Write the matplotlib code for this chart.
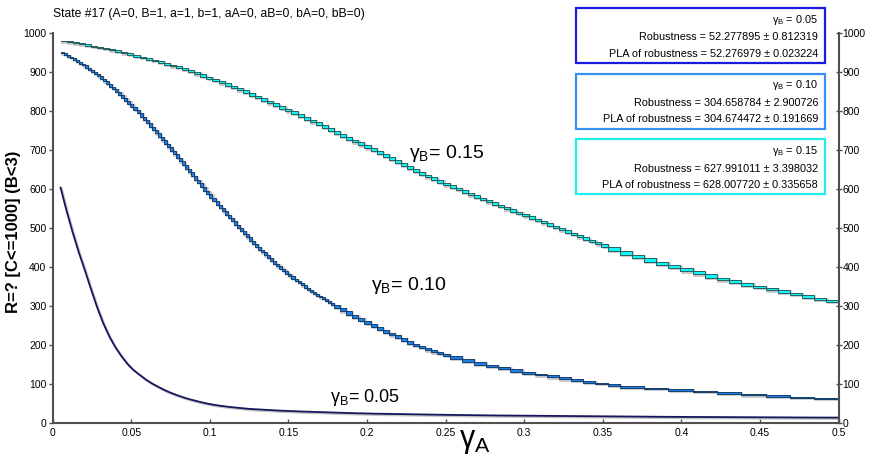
import matplotlib
matplotlib.use("Agg")
import matplotlib.pyplot as plt
import matplotlib.transforms as mtransforms
from matplotlib.patches import Rectangle
import numpy as np

plt.rcParams['font.family'] = ['Liberation Sans', 'DejaVu Sans']
plt.rcParams['mathtext.fontset'] = 'custom'
plt.rcParams['mathtext.rm'] = 'Liberation Sans'

# step grids (gamma_A), start 0.005 end 0.5
grid256 = np.linspace(0.005, 0.5, 257)
grid128 = np.linspace(0.005, 0.5, 129)
grid64 = np.linspace(0.005, 0.5, 65)
grid32 = np.linspace(0.005, 0.5, 33)

# gamma_B = 0.15 : fine steps up to ~0.353, then coarser
cyan_fine = [980, 977.5, 975, 972.5, 970, 967, 964, 961, 958, 954.5, 951, 947, 943, 939, 935, 931,
             927, 922.5, 918, 913.5, 909, 904, 899, 893, 887, 881.5, 876, 870, 864, 858, 852, 845.5,
             839, 832.5, 826, 819, 812, 805, 798, 791, 784, 777, 770, 763, 755.5, 748, 741, 733.5,
             726, 718.5, 711, 703.5, 696, 688.5, 681, 673.5, 666, 658.5, 651, 643.5, 636, 629,
             622, 615, 608.5, 602, 596, 589.5, 583, 577, 571, 565, 559, 553, 547, 541, 535, 529,
             523, 517, 511, 505, 499, 493, 487, 481, 475, 469, 463, 457, 451]
cyan_coarse = [441, 431, 422, 413, 404, 396, 388, 380, 372, 365, 358, 351, 345, 339, 333,
               327, 321, 315, 309]

# gamma_B = 0.10
blue_fine = [951, 947, 943, 939, 935, 930, 925.5, 921, 916, 910.5, 905, 899.5, 894, 888, 881.5, 875,
             869, 862, 855, 848, 841, 833, 825.5, 818, 810, 802, 793.5, 785, 777, 768, 759.5, 751,
             742, 733, 724, 715, 706, 697, 688, 679, 670, 661, 651.5, 642, 633, 623.5, 614, 604.5,
             595, 586, 577, 568, 559, 550.5, 542, 533.5, 525, 516.5, 508, 499.5, 491, 483, 475, 467,
             459, 451.5, 444, 436.5, 429, 422, 415, 408, 401, 394.5, 388, 381.5, 375, 369, 363.5,
             357.5, 352, 346.5, 341.5, 336, 331, 326, 321.5, 316.5, 312, 307.5, 303]
blue_step = [294, 285.5, 277, 269, 261, 253.5, 246, 238.5, 231, 224, 217, 210, 203, 197, 191,
             185.5, 180, 175.5, 171]
blue_mid = [163, 155, 148, 143, 137, 131, 126, 121, 116, 111, 107, 103, 99]
blue_coarse = [95, 90, 86, 82, 78, 74, 70, 67, 64, 61]

# gamma_B = 0.05
navy_fine = [603, 543, 488, 437, 391, 343, 297, 256, 222, 194, 171, 151, 135, 123, 111, 101,
             92.5, 84.5, 77.5, 71.5, 66, 61, 57, 53, 49.5, 46.5, 44, 42, 40, 38.5, 37, 35.5, 34.5]
navy_coarse = [31, 28.5, 26.5, 24.5, 23, 22, 21, 20, 19.2, 18.5, 18, 17.5, 17, 16.5, 16,
               15.5, 15, 14.7, 14.4, 14.1, 13.8, 13.5, 13.2, 13]

legend_gamma = ["0.05", "0.10", "0.15"]
legend_rob = ["52.277895 \u00b1 0.812319", "304.658784 \u00b1 2.900726", "627.991011 \u00b1 3.398032"]
legend_pla = ["52.276979 \u00b1 0.023224", "304.674472 \u00b1 0.191669", "628.007720 \u00b1 0.335658"]

cyan_x = np.concatenate([grid128[:91], grid64[46:]])
cyan_v = np.array(cyan_fine + cyan_coarse, dtype=float)
blue_x = np.concatenate([grid256[:91], grid128[46:65], grid64[33:46], grid32[23:]])
blue_v = np.array(blue_fine + blue_step + blue_mid + blue_coarse, dtype=float)
navy_x = np.concatenate([grid128[:33], grid32[9:]])
navy_v = np.array(navy_fine + navy_coarse, dtype=float)

fig = plt.figure(figsize=(8.72, 4.57), dpi=100)
ax = fig.add_axes([0.0604, 0.0751, 0.9012, 0.8533])
shadow = mtransforms.offset_copy(ax.transData, fig=fig, x=1.2, y=-1.2, units='dots')


def stair_band(x, v, face, edge):
    lo = np.append(v[1:], v[-1])
    ax.fill_between(x, lo, v, step='post', facecolor='#c4c4c4', edgecolor='#c4c4c4',
                    linewidth=1.2, transform=shadow, zorder=2)
    ax.fill_between(x, lo, v, step='post', facecolor=face, edgecolor=edge,
                    linewidth=0.7, zorder=3)


stair_band(cyan_x, cyan_v, '#10f8f8', '#24605f')
stair_band(blue_x, blue_v, '#1f80ea', '#15406e')
ax.plot(navy_x, navy_v, color='#c4c4c4', lw=1.6, transform=shadow, zorder=2)
ax.plot(navy_x, navy_v, color='#16165e', lw=1.3, zorder=3)

ax.set_xlim(0, 0.5)
ax.set_ylim(0, 1000)
xt = np.arange(0, 0.51, 0.05)
ax.set_xticks(xt)
ax.set_xticklabels(['%g' % round(t, 2) for t in xt])
ax.set_yticks(np.arange(0, 1001, 100))
for s in ['top', 'right']:
    ax.spines[s].set_visible(False)
for s in ['left', 'bottom']:
    ax.spines[s].set_color('#505050')
    ax.spines[s].set_linewidth(1.5)
ax.tick_params(axis='x', direction='in', length=3, width=1, color='#505050', labelsize=7.5, pad=4)
ax.tick_params(axis='y', direction='out', length=3, width=1, color='#505050', labelsize=7.5, pad=1.5)

ax2 = ax.twinx()
ax2.set_ylim(0, 1000)
ax2.set_yticks(np.arange(0, 1001, 100))
for s in ['top', 'left', 'bottom']:
    ax2.spines[s].set_visible(False)
ax2.spines['right'].set_color('#505050')
ax2.spines['right'].set_linewidth(1.5)
ax2.tick_params(axis='y', direction='inout', length=4, width=1, color='#505050', labelsize=7.5, pad=1)


def fig_text(px, py, s, **kw):
    fig.text(px / 872, 1 - py / 457, s, **kw)


fig_text(409, 158, r'$\mathregular{γ_B}$= 0.15', fontsize=14, va='baseline')
fig_text(371, 290, r'$\mathregular{γ_B}$= 0.10', fontsize=14, va='baseline')
fig_text(330, 402, r'$\mathregular{γ_B}$= 0.05', fontsize=13, va='baseline')

fig_text(53, 17, "State #17 (A=0, B=1, a=1, b=1, aA=0, aB=0, bA=0, bB=0)", fontsize=8.7, va='baseline')
fig_text(459, 447, r'$\mathregular{γ_A}$', fontsize=22, va='baseline')
fig_text(14, 232, "R=? [C<=1000] (B<3)", fontsize=12, fontweight='bold', rotation=90,
         ha='center', va='center')

box_colors = ['#1a1ae0', '#3a92f0', '#22ecec']
for k in range(3):
    top = 8 + k * 65.5
    fig.add_artist(Rectangle((576 / 872, 1 - (top + 55) / 457), 249 / 872, 55 / 457,
                             transform=fig.transFigure, facecolor='white',
                             edgecolor=box_colors[k], linewidth=1.6, zorder=5))
    fig_text(818, top + 15, r'$\mathregular{γ_B}$ = ' + legend_gamma[k], fontsize=7.8,
             ha='right', va='baseline', zorder=6)
    fig_text(818, top + 32.5, "Robustness = " + legend_rob[k], fontsize=7.8,
             ha='right', va='baseline', zorder=6)
    fig_text(818, top + 49, "PLA of robustness = " + legend_pla[k], fontsize=7.8,
             ha='right', va='baseline', zorder=6)

fig.savefig("out.png", dpi=100)
